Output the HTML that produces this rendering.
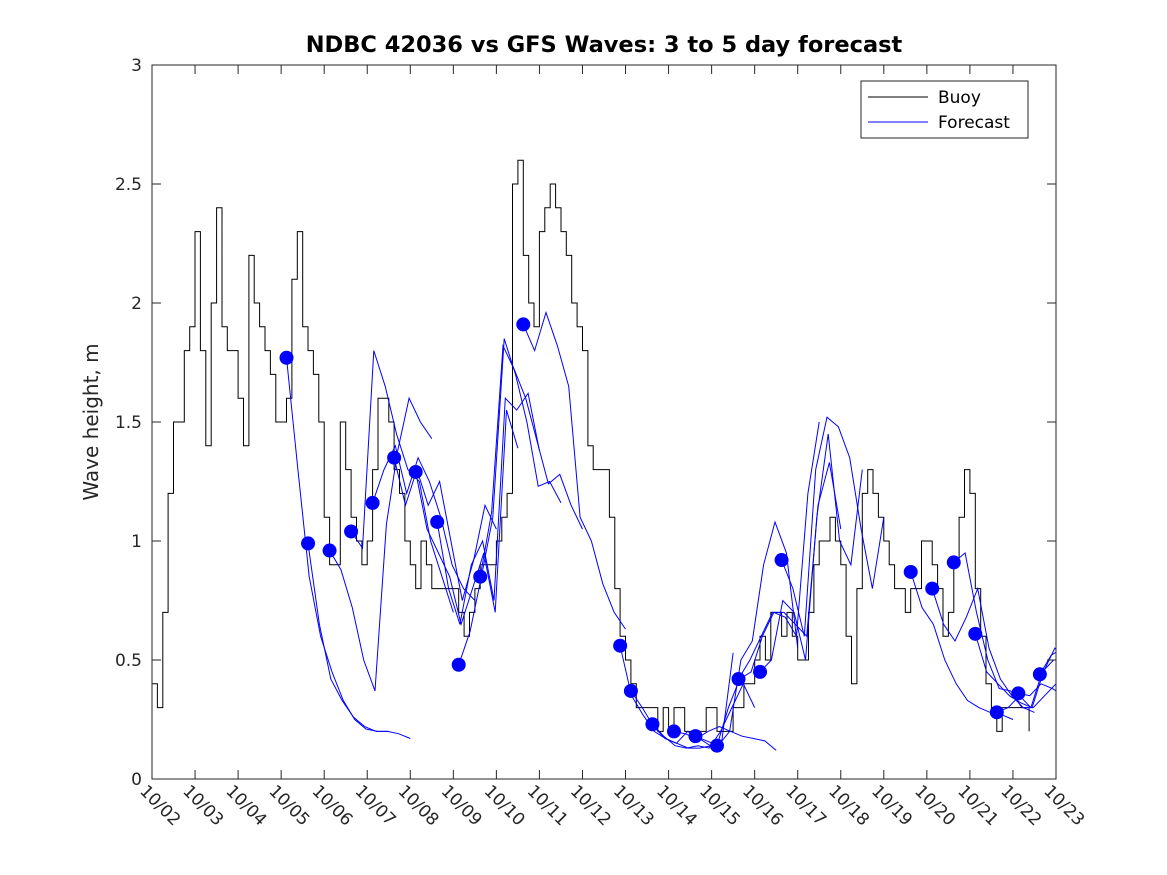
<!DOCTYPE html>
<html><head><meta charset="utf-8"><style>
html,body{margin:0;padding:0;background:#fff;}
svg{display:block;font-family:"DejaVu Sans","Liberation Sans",sans-serif;}
</style></head><body>
<svg id="chart" width="1167" height="875" viewBox="0 0 1167 875" xmlns="http://www.w3.org/2000/svg">
<rect x="0" y="0" width="1167" height="875" fill="#fff"/>
<text x="604" y="52" text-anchor="middle" font-size="22.5" font-weight="bold" fill="#000">NDBC 42036 vs GFS Waves: 3 to 5 day forecast</text>
<text transform="translate(98,422) rotate(-90)" text-anchor="middle" font-size="20" fill="#262626">Wave height, m</text>
<g id="plot"></g>
<rect x="152" y="65" width="904" height="714" fill="none" stroke="#262626" stroke-width="1"/>
<g id="axes"></g>
<g>
<rect x="861" y="81" width="167" height="57" fill="#fff" stroke="#262626" stroke-width="1"/>
<line x1="868" y1="97" x2="928" y2="97" stroke="#000" stroke-width="1"/>
<text x="938" y="103" font-size="17" fill="#000">Buoy</text>
<line x1="868" y1="122" x2="928" y2="122" stroke="#0000ff" stroke-width="1"/>
<text x="938" y="128" font-size="17" fill="#000">Forecast</text>
</g>
</svg>
<script>
// ---- data ----
const xTickLabels = ["10/02","10/03","10/04","10/05","10/06","10/07","10/08","10/09","10/10","10/11","10/12","10/13","10/14","10/15","10/16","10/17","10/18","10/19","10/20","10/21","10/22","10/23"];
const yTickValues = [0,0.5,1,1.5,2,2.5,3];
const buoyStep = 0.125; // days
const buoyValues = [0.4,0.3,0.7,1.2,1.5,1.5,1.8,1.9,2.3,1.8,1.4,2.0,2.4,1.9,1.8,1.8,1.6,1.4,
 2.2,2.0,1.9,1.8,1.7,1.5,1.5,1.6,2.1,2.3,1.9,1.8,1.7,1.5,1.1,0.9,0.9,1.5,1.3,1.1,1.0,0.9,1.0,
 1.3,1.6,1.6,1.5,1.3,1.2,1.0,0.9,0.8,1.0,0.9,0.8,0.8,0.8,0.8,0.8,0.7,0.6,0.7,0.8,0.9,0.9,0.9,
 1.0,1.1,1.2,2.5,2.6,2.2,2.0,1.9,2.3,2.4,2.5,2.4,2.3,2.2,2.0,1.9,1.8,1.4,1.3,1.3,1.3,1.1,0.8,
 0.6,0.5,0.4,0.3,0.3,0.3,0.3,0.2,0.3,0.2,0.3,0.3,0.2,0.2,0.2,0.2,0.3,0.3,0.2,0.2,0.2,0.3,0.3,
 0.4,0.4,0.5,0.6,0.5,0.7,0.7,0.6,0.7,0.6,0.5,0.5,0.7,0.9,1.0,1.0,1.1,1.0,0.9,0.6,0.4,0.8,1.2,
 1.3,1.2,1.1,1.0,0.9,0.8,0.8,0.7,0.8,0.8,1.0,1.0,0.9,0.8,0.6,0.7,0.9,1.1,1.3,1.2,0.8,0.6,0.4,
 0.3,0.2,0.3,0.3,0.3,0.3,0.3,0.2];
const fcSpan = 2.375; // days per forecast run
const fcStarts = [3.125,3.625,4.125,4.625,5.125,5.625,6.125,6.625,7.125,7.625,8.625,10.875,11.125,11.625,12.125,12.625,13.125,13.625,14.125,14.625,17.625,18.125,18.625,19.125,19.625,20.125,20.625];
const fcRun1 = [1.77,1.3,0.85,0.6,0.45,0.33,0.25,0.21,0.2,0.2];
const fcRun2 = [0.99,0.65,0.42,0.33,0.26,0.22,0.2,0.2,0.19,0.17];
const fcRun3 = [0.96,0.88,0.72,0.5,0.37,1.07,1.38,1.6,1.5,1.43];
const fcRun4 = [1.04,0.97,1.8,1.65,1.45,1.3,1.25,1.0,0.85,0.7];
const fcRun5 = [1.16,1.3,1.4,1.2,1.35,1.25,1.1,0.9,0.8,0.75];
const fcRun6 = [1.35,1.15,1.3,1.15,1.25,1.0,0.75,0.92,1.15,1.05];
const fcRun7 = [1.29,1.05,0.95,0.85,0.65,0.8,0.95,0.7,1.55,1.39];
const fcRun8 = [1.08,0.8,0.65,0.9,1.0,0.75,1.6,1.55,1.62,1.38];
const fcRun9 = [0.48,0.62,0.85,1.1,1.85,1.7,1.5,1.23,1.25,1.16];
const fcRun10 = [0.85,1.12,1.82,1.72,1.6,1.42,1.24,1.28,1.15,1.05];
const fcRun11 = [1.91,1.8,1.96,1.82,1.65,1.1,1.0,0.82,0.7,0.63];
const fcRun12 = [0.56,0.35,0.27,0.2,0.17,0.15,0.13,0.13,0.14,0.15];
const fcRun13 = [0.37,0.3,0.22,0.17,0.15,0.2,0.17,0.14,0.16,0.53];
const fcRun14 = [0.23,0.18,0.14,0.13,0.14,0.13,0.2,0.3,0.4,0.3];
const fcRun15 = [0.2,0.19,0.17,0.2,0.22,0.2,0.18,0.17,0.16,0.12];
const fcRun16 = [0.18,0.16,0.14,0.2,0.5,0.58,0.9,1.08,0.95,0.55];
const fcRun17 = [0.14,0.3,0.42,0.45,0.6,0.7,0.68,0.6,1.2,1.5];
const fcRun18 = [0.42,0.5,0.6,0.7,0.7,0.65,0.6,1.15,1.33,1.05];
const fcRun19 = [0.45,0.5,0.75,0.7,0.5,1.1,1.45,1.0,0.9,1.3];
const fcRun20 = [0.92,0.8,0.6,1.3,1.52,1.48,1.35,1.05,0.8,1.1];
const fcRun21 = [0.87,0.72,0.65,0.5,0.4,0.33,0.3,0.28,0.27,0.25];
const fcRun22 = [0.8,0.65,0.58,0.68,0.8,0.55,0.42,0.35,0.3,0.28];
const fcRun23 = [0.91,0.95,0.7,0.5,0.38,0.37,0.3,0.3,0.35,0.4];
const fcRun24 = [0.61,0.45,0.4,0.35,0.32,0.3,0.45,0.55,0.5,0.45];
const fcRun25 = [0.28,0.3,0.35,0.3,0.45,0.5,0.5,0.45,0.4,0.4];
const fcRun26 = [0.36,0.35,0.4,0.38,0.35,0.4,0.4,0.4,0.4,0.4];
const fcRun27 = [0.44,0.52,0.55,0.5,0.45,0.45,0.45,0.45,0.45,0.45];
const fcRuns = [fcRun1,fcRun2,fcRun3,fcRun4,fcRun5,fcRun6,fcRun7,fcRun8,fcRun9,fcRun10,fcRun11,fcRun12,fcRun13,fcRun14,fcRun15,fcRun16,fcRun17,fcRun18,fcRun19,fcRun20,fcRun21,fcRun22,fcRun23,fcRun24,fcRun25,fcRun26,fcRun27];

// ---- scales ----
const X0=152, X1=1056, Y0=779, Y1=65;
const xMax = xTickLabels.length-1, yMax = 3;
function sx(d){return X0+(X1-X0)*d/xMax;}
function sy(v){return Y0-(Y0-Y1)*v/yMax;}
const NS="http://www.w3.org/2000/svg";
function mk(tag,attrs){const e=document.createElementNS(NS,tag);for(const k in attrs)e.setAttribute(k,attrs[k]);return e;}

const plot=document.getElementById('plot');
const clip=mk('clipPath',{id:'pc'});clip.appendChild(mk('rect',{x:X0,y:Y1,width:X1-X0,height:Y0-Y1}));
plot.appendChild(clip);
const g=mk('g',{'clip-path':'url(#pc)'});plot.appendChild(g);

// buoy line (stepped)
let bp=[];
buoyValues.forEach((v,i)=>{
  const x0=sx(i*buoyStep), x1=sx((i+1)*buoyStep), y=sy(v);
  bp.push(x0.toFixed(1)+','+y.toFixed(1));
  if(i<buoyValues.length-1) bp.push(x1.toFixed(1)+','+y.toFixed(1));
});
const buoy=mk('polyline',{points:bp.join(' '),fill:'none',stroke:'#000','stroke-width':1});


g.appendChild(buoy);

// forecast runs
fcRuns.forEach((run,r)=>{
  const st=fcStarts[r], n=run.length;
  const p=run.map((v,k)=>sx(st+fcSpan*k/(n-1)).toFixed(1)+','+sy(v).toFixed(1)).join(' ');
  const l=mk('polyline',{points:p,fill:'none',stroke:'#0000ff','stroke-width':1});
  
  
  g.appendChild(l);
});
fcRuns.forEach((run,r)=>{
  const c=mk('ellipse',{cx:sx(fcStarts[r]),cy:sy(run[0]),rx:7,ry:7,fill:'#0000ff'});
  
  
  g.appendChild(c);
});

// axes
const ax=document.getElementById('axes');
yTickValues.forEach(v=>{
  const y=sy(v);
  const t1=mk('line',{x1:X0,y1:y,x2:X0+9,y2:y,stroke:'#262626'});
  
  
  ax.appendChild(t1);
  const t2=mk('line',{x1:X1-9,y1:y,x2:X1,y2:y,stroke:'#262626'});
  
  
  ax.appendChild(t2);
  const tx=mk('text',{x:X0-10,y:y+6,'text-anchor':'end','font-size':17,fill:'#262626'});
  tx.textContent=String(v);
  
  
  ax.appendChild(tx);
});
xTickLabels.forEach((lab,i)=>{
  const x=sx(i);
  const t1=mk('line',{x1:x,y1:Y0,x2:x,y2:Y0-9,stroke:'#262626'});
  
  
  ax.appendChild(t1);
  const t2=mk('line',{x1:x,y1:Y1,x2:x,y2:Y1+9,stroke:'#262626'});
  
  
  ax.appendChild(t2);
  const tx=mk('text',{transform:'translate('+(x-13)+','+(Y0+13)+') rotate(45)','font-size':17,fill:'#262626'});
  tx.textContent=lab;
  
  
  ax.appendChild(tx);
});
</script>
</body></html>
